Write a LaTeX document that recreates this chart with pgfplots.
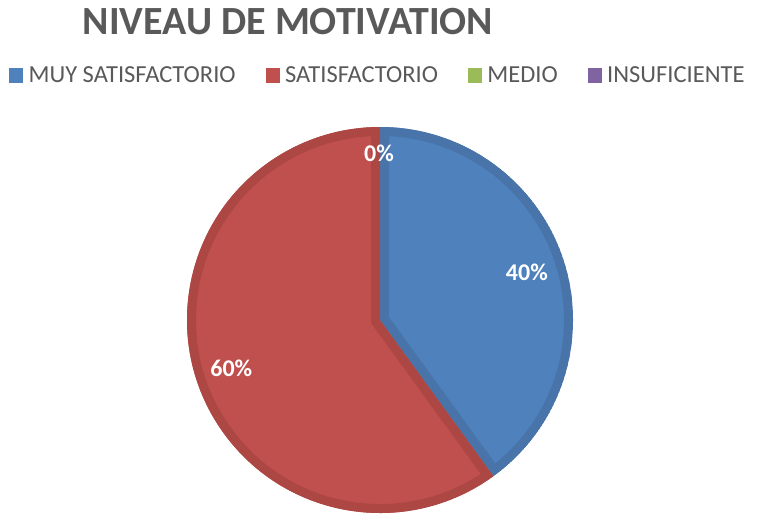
\documentclass[border=0pt]{standalone}
\usepackage{pgfplots}
\pgfplotsset{compat=1.18}
\usepackage{pgfplotstable}
\usepackage{fontspec}
\setmainfont{Carlito}
\definecolor{cBlue}{HTML}{4F81BD}
\definecolor{cBlueD}{HTML}{4874AA}
\definecolor{cRed}{HTML}{C0504D}
\definecolor{cRedD}{HTML}{AC4744}
\definecolor{cGreen}{HTML}{9BBB59}
\definecolor{cPurple}{HTML}{8064A2}
\definecolor{txt}{HTML}{595959}

\pgfplotstableread{
idx value
0 40
1 60
2 0
3 0
}\piedata

\begin{document}
\begin{tikzpicture}
\pgfplotstablegetelem{0}{value}\of\piedata \edef\vA{\pgfplotsretval}
\pgfplotstablegetelem{1}{value}\of\piedata \edef\vB{\pgfplotsretval}
\pgfplotstablegetelem{2}{value}\of\piedata \edef\vC{\pgfplotsretval}
\pgfmathsetmacro\aA{90}
\pgfmathsetmacro\aB{90-3.6*\vA}
\pgfmathsetmacro\aC{\aB-3.6*\vB}
\pgfmathsetmacro\mA{(\aA+\aB)/2}
\pgfmathsetmacro\mB{(\aB+\aC)/2}
\def\R{193}
\begin{axis}[scale only axis, width=757pt, height=514pt,
  xmin=0, xmax=757, ymin=0, ymax=514, hide axis, clip=false,
  legend columns=4,
  legend style={at={(axis cs:6,439)}, anchor=west, draw=none, fill=none,
    font=\fontsize{24.5}{29}\selectfont, text=txt,
    nodes={inner ysep=3pt, inner xsep=6pt},
    /tikz/every even column/.append style={column sep=24pt}},
  ]
\addlegendimage{legend image code/.code={\fill[cBlue] (0pt,-7pt) rectangle (13pt,7pt);}}
\addlegendentry{MUY SATISFACTORIO}
\addlegendimage{legend image code/.code={\fill[cRed] (0pt,-7pt) rectangle (13pt,7pt);}}
\addlegendentry{SATISFACTORIO}
\addlegendimage{legend image code/.code={\fill[cGreen] (0pt,-7pt) rectangle (13pt,7pt);}}
\addlegendentry{MEDIO}
\addlegendimage{legend image code/.code={\fill[cPurple] (0pt,-7pt) rectangle (13pt,7pt);}}
\addlegendentry{INSUFICIENTE}

% slice 1
\begin{scope}
\clip (axis cs:380,194) -- ++(\aA:\R pt) arc[start angle=\aA, end angle=\aB, radius=\R pt] -- cycle;
\fill[cBlue] (axis cs:380,194) -- ++(\aA:\R pt) arc[start angle=\aA, end angle=\aB, radius=\R pt] -- cycle;
\draw[cBlueD, line width=18pt, line join=miter] (axis cs:380,194) -- ++(\aA:\R pt) arc[start angle=\aA, end angle=\aB, radius=\R pt] -- cycle;
\end{scope}
% slice 2
\begin{scope}
\clip (axis cs:380,194) -- ++(\aB:\R pt) arc[start angle=\aB, end angle=\aC, radius=\R pt] -- cycle;
\fill[cRed] (axis cs:380,194) -- ++(\aB:\R pt) arc[start angle=\aB, end angle=\aC, radius=\R pt] -- cycle;
\draw[cRedD, line width=18pt, line join=miter] (axis cs:380,194) -- ++(\aB:\R pt) arc[start angle=\aB, end angle=\aC, radius=\R pt] -- cycle;
\end{scope}

\node[text=white, font=\bfseries\fontsize{24}{28}\selectfont]
  at (axis cs:{380+0.8*\R*cos(\mA)},{194+0.8*\R*sin(\mA)}) {\vA\%};
\node[text=white, font=\bfseries\fontsize{24}{28}\selectfont]
  at (axis cs:{380+0.81*\R*cos(\mB)},{194+0.81*\R*sin(\mB)}) {\vB\%};
\node[text=white, font=\bfseries\fontsize{24}{28}\selectfont]
  at (axis cs:379,361) {\vC\%};

\node[text=txt, font=\bfseries\fontsize{40}{46}\selectfont] at (axis cs:288,492) {NIVEAU DE MOTIVATION};
\end{axis}
\pgfresetboundingbox
\useasboundingbox (current axis.south west) rectangle (current axis.north east);
\end{tikzpicture}
\end{document}
